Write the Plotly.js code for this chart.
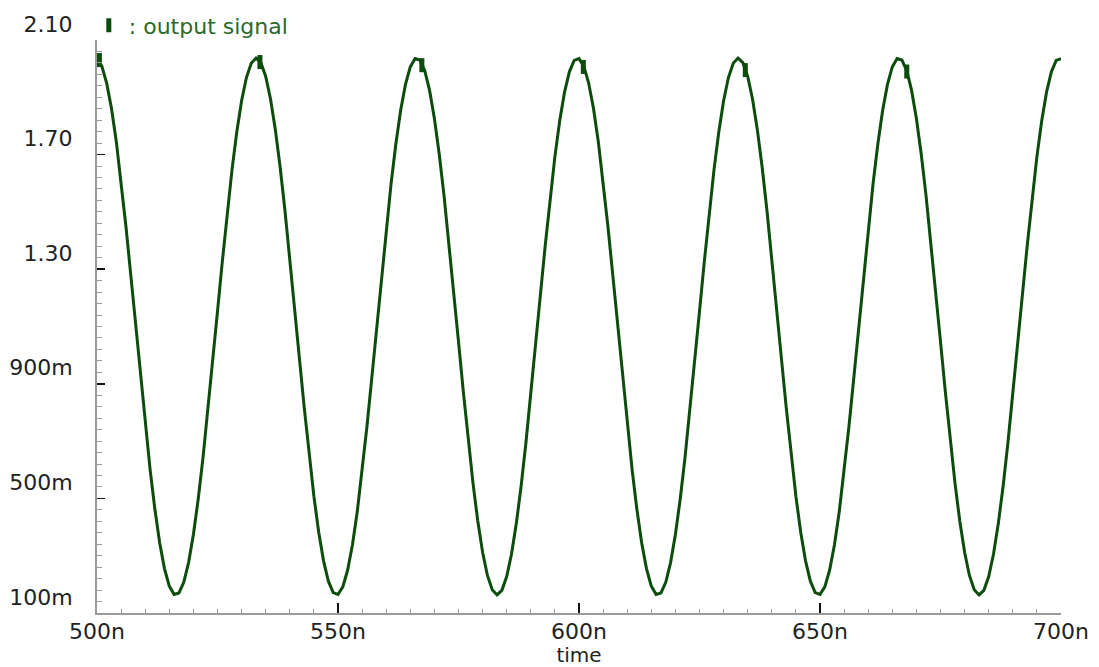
<!DOCTYPE html>
<html>
<head>
<meta charset="utf-8">
<script src="https://cdn.plot.ly/plotly-3.0.1.min.js"></script>
<style>html,body{margin:0;padding:0;background:#fff;}#chart{width:1099px;height:667px;}</style>
</head>
<body>
<div id="chart"></div>
<script>
// time in ns (1 ns steps)
const timeNs = [
500,501,502,503,504,505,506,507,508,509,510,511,512,513,514,515,516,517,518,519,
520,521,522,523,524,525,526,527,528,529,530,531,532,533,534,535,536,537,538,539,
540,541,542,543,544,545,546,547,548,549,550,551,552,553,554,555,556,557,558,559,
560,561,562,563,564,565,566,567,568,569,570,571,572,573,574,575,576,577,578,579,
580,581,582,583,584,585,586,587,588,589,590,591,592,593,594,595,596,597,598,599,
600,601,602,603,604,605,606,607,608,609,610,611,612,613,614,615,616,617,618,619,
620,621,622,623,624,625,626,627,628,629,630,631,632,633,634,635,636,637,638,639,
640,641,642,643,644,645,646,647,648,649,650,651,652,653,654,655,656,657,658,659,
660,661,662,663,664,665,666,667,668,669,670,671,672,673,674,675,676,677,678,679,
680,681,682,683,684,685,686,687,688,689,690,691,692,693,694,695,696,697,698,699,
700
];
// output signal (V)
const outputSignal = [
2.035,2.009,1.950,1.862,1.746,1.607,1.450,1.281,1.106,0.930,
0.761,0.603,0.463,0.345,0.255,0.194,0.165,0.170,0.207,0.276,
0.374,0.498,0.643,0.805,0.977,1.153,1.327,1.494,1.646,1.779,
1.888,1.969,2.019,2.037,2.021,1.973,1.894,1.787,1.656,1.504,
1.339,1.165,0.988,0.816,0.654,0.507,0.382,0.282,0.211,0.171,
0.165,0.191,0.250,0.338,0.454,0.593,0.750,0.919,1.094,1.270,
1.439,1.597,1.737,1.855,1.945,2.006,2.035,2.030,1.993,1.924,
1.826,1.702,1.557,1.395,1.223,1.047,0.873,0.706,0.554,0.421,
0.312,0.231,0.181,0.163,0.179,0.227,0.306,0.413,0.544,0.696,
0.861,1.035,1.212,1.384,1.546,1.693,1.818,1.918,1.989,2.029,
2.035,2.009,1.950,1.862,1.746,1.607,1.450,1.281,1.106,0.930,
0.761,0.603,0.463,0.345,0.255,0.194,0.165,0.170,0.207,0.276,
0.374,0.498,0.643,0.805,0.977,1.153,1.327,1.494,1.646,1.779,
1.888,1.969,2.019,2.037,2.021,1.973,1.894,1.787,1.656,1.504,
1.339,1.165,0.988,0.816,0.654,0.507,0.382,0.282,0.211,0.171,
0.165,0.191,0.250,0.338,0.454,0.593,0.750,0.919,1.094,1.270,
1.439,1.597,1.737,1.855,1.945,2.006,2.035,2.030,1.993,1.924,
1.826,1.702,1.557,1.395,1.223,1.047,0.873,0.706,0.554,0.421,
0.312,0.231,0.181,0.163,0.179,0.227,0.306,0.413,0.544,0.696,
0.861,1.035,1.212,1.384,1.546,1.693,1.818,1.918,1.989,2.029,
2.035
];
// marker positions placed by the waveform viewer
const markerTime = [500.5, 533.8, 567.4, 600.9, 634.5, 668.0];
const markerValue = [2.030, 2.023, 2.012, 2.006, 1.995, 1.990];

const xTickVals = [500, 550, 600, 650, 700];
const xTickText = ["500n", "550n", "600n", "650n", "700n"];
const yTickVals = [0.1, 0.5, 0.9, 1.3, 1.7, 2.1];
const yTickText = ["100m", "500m", "900m", "1.30", "1.70", "2.10"];
const seriesName = ": output signal";

const green = "#0c4c0c";
const traces = [
  {
    x: timeNs, y: outputSignal, type: "scatter", mode: "lines",
    line: {color: green, width: 3},
    showlegend: false, hoverinfo: "skip"
  },
  {
    x: markerTime, y: markerValue, type: "scatter", mode: "markers",
    name: seriesName,
    marker: {symbol: "line-ns", size: 10, color: green, line: {color: green, width: 5}},
    showlegend: true
  }
];

const tickFont = {family: "DejaVu Sans", size: 22, color: "#222"};
const layout = {
  width: 1099, height: 667,
  paper_bgcolor: "#fff", plot_bgcolor: "#fff",
  margin: {l: 97, r: 38, t: 40, b: 54, autoexpand: false},
  showlegend: true,
  legend: {
    x: -0.0085, y: 1.062, xanchor: "left", yanchor: "top",
    bgcolor: "rgba(0,0,0,0)", borderwidth: 0,
    font: {family: "DejaVu Sans", size: 22, color: "#2a6a2a"},
    itemwidth: 30
  },
  xaxis: {
    range: [500, 700], tickmode: "array", tickvals: xTickVals, ticktext: xTickText,
    ticks: "inside", ticklen: 10, tickwidth: 1.5, tickcolor: "#111",
    showline: true, linecolor: "#9a9a9a", linewidth: 2, mirror: false,
    showgrid: false, zeroline: false, tickfont: tickFont, automargin: false,
    ticklabelstandoff: -2,
    minor: {dtick: 5, tick0: 500, ticks: "inside", ticklen: 4, tickwidth: 1, tickcolor: "#9a9a9a", showgrid: false},
    title: {text: "time", font: {family: "DejaVu Sans", size: 20, color: "#222"}, standoff: 8}
  },
  yaxis: {
    range: [0.1, 2.1], tickmode: "array", tickvals: yTickVals, ticktext: yTickText,
    ticks: "inside", ticklen: 8, tickwidth: 1.5, tickcolor: "#111",
    showline: true, linecolor: "#9a9a9a", linewidth: 2, mirror: false,
    showgrid: false, zeroline: false, tickfont: tickFont, automargin: false,
    ticklabelposition: "outside top", ticklabelstandoff: 18,
    minor: {dtick: 0.04, tick0: 0.1, ticks: "inside", ticklen: 5, tickwidth: 1, tickcolor: "#9a9a9a", showgrid: false}
  }
};

Plotly.newPlot("chart", traces, layout, {displayModeBar: false, staticPlot: true});
</script>
</body>
</html>
